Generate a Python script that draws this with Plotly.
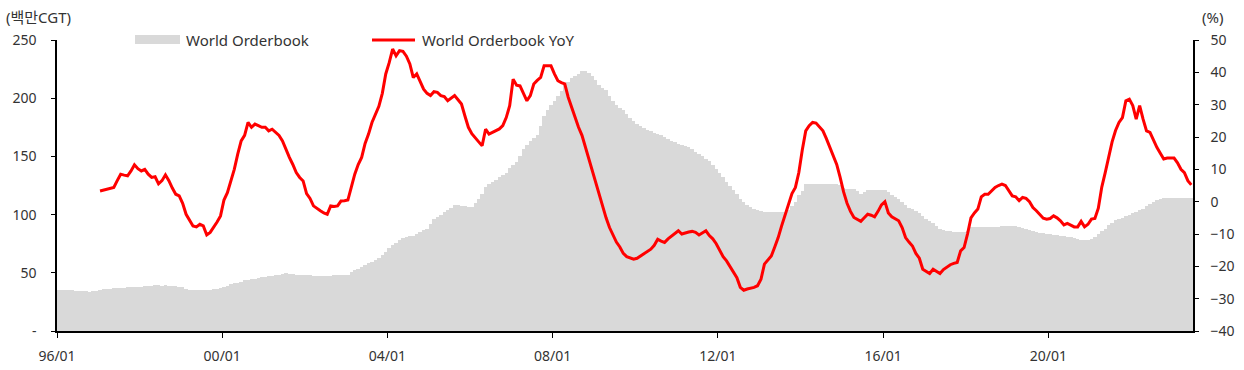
import plotly.graph_objects as go

# ---- data (monthly, 1996/01 .. 2023/06) ----
start_year = 1996
orderbook_mcgt = [
    # 1996
    35, 35, 35, 35, 35, 34.5, 34.5, 34, 34, 33.7, 34, 34.5,
    # 1997
    35.5, 36, 36.5, 36.5, 36.8, 37, 37, 37.2, 37.5, 37.5, 37.8, 38,
    # 1998
    38.2, 38.5, 38.5, 39, 39.2, 39.4, 39, 39.2, 38.8, 38.5, 38.5, 38,
    # 1999
    37.5, 36.5, 35.5, 35, 35, 34.8, 35, 35, 35.5, 36, 36.5, 37,
    # 2000
    38, 39, 40, 40.9, 41.5, 42.5, 43.5, 44, 44.3, 45, 45.5, 46,
    # 2001
    46.5, 47, 47.5, 48, 48.5, 49, 49.5, 49.3, 48.8, 48.5, 48.2, 48,
    # 2002
    48, 47.8, 47.5, 47.5, 47.3, 47.5, 47.2, 47.5, 48, 48, 48.2, 48.3,
    # 2003
    48.5, 51, 52, 53.5, 55, 56.6, 58, 59.5, 61, 62.6, 65, 68,
    # 2004
    71, 73.5, 76, 78, 79.5, 80.5, 81.5, 82, 83.5, 85, 86.5, 88,
    # 2005
    92, 96, 98, 100, 102, 104, 106, 108, 108, 107.5, 107, 106.6,
    # 2006
    106.6, 110, 113.8, 118, 123.8, 126, 128, 130, 132, 133.8, 136, 140,
    # 2007
    143, 145, 150, 156.7, 160, 163, 166, 168, 176, 185, 190, 194,
    # 2008
    198, 202, 206, 211, 214, 217, 219.5, 221, 223, 223.8, 222, 219.5,
    # 2009
    216, 211, 209, 206.7, 202, 198, 193.8, 192, 190, 186.7, 183, 180,
    # 2010
    178, 176, 174.5, 173, 172, 170.5, 169.5, 168, 166.5, 165, 163.5, 162,
    # 2011
    161, 160, 159, 158, 156, 153.8, 152, 150, 148, 146, 143, 139.5,
    # 2012
    136, 132, 128, 124.5, 121, 117.5, 113.8, 111, 108.5, 106.5, 105, 104,
    # 2013
    103, 102.5, 102, 102, 102, 102, 102, 102.5, 104, 107, 111, 117,
    # 2014
    120, 126, 126, 126, 126, 126, 126, 126, 126, 126, 126, 125.8,
    # 2015
    123, 122.4, 122.4, 122, 120, 118, 119.5, 121, 121, 121.5, 121, 121,
    # 2016
    121, 119, 117, 115.5, 113.8, 111, 108.5, 106, 105, 103, 101, 99,
    # 2017
    96.6, 94.5, 92.5, 90, 88, 87, 86, 85.5, 85, 85, 85, 85,
    # 2018
    86, 89.5, 89.5, 89, 89, 89.5, 89, 89.5, 89.5, 89.5, 90, 90,
    # 2019
    90.3, 90.3, 90.3, 89.5, 88.5, 88, 87, 86, 85, 84.5, 83.8, 83.5,
    # 2020
    83, 82.5, 82.3, 82, 81.5, 81, 80.5, 79.5, 79, 78.5, 78, 78,
    # 2021
    79, 80.9, 83, 85.5, 88, 91, 93, 95, 96.5, 97.5, 98.5, 99.5,
    # 2022
    101, 102.5, 103.8, 105, 107, 109, 111, 112.5, 113.5, 114.3, 114.5, 114.3,
    # 2023
    114.5, 114.3, 114.5, 114, 114.3, 114.3,
]

yoy_start_year = 1997
orderbook_yoy_pct = [
    # 1997
    3.3, 3.6, 3.9, 4.1, 4.4, 6.5, 8.5, 8.2, 8.0, 9.5, 11.4, 10.2,
    # 1998
    9.5, 10, 8.5, 7.5, 7.7, 5.5, 6.5, 8.3, 6.5, 4.2, 2.3, 1.8,
    # 1999
    -0.5, -3.9, -5.8, -7.5, -7.8, -7.0, -7.5, -10.3, -9.5, -8, -6.3, -4.4,
    # 2000
    0.5, 2.8, 6.4, 10.0, 14.7, 18.8, 20.5, 24.5, 23, 24, 23.5, 23,
    # 2001
    23, 21.9, 22.4, 21.5, 20.5, 18.8, 16, 13.7, 11.5, 9, 7.5, 6.4,
    # 2002
    2.5, 1.0, -1.3, -2.2, -2.8, -3.5, -3.9, -1.3, -1.5, -1.3, 0.2, 0.3,
    # 2003
    0.5, 4.5, 8.5, 11.5, 13.7, 18, 20.9, 24.5, 27, 29.5, 33.5, 39.5,
    # 2004
    43, 47.2, 45.1, 46.7, 46.5, 45, 42.6, 38.4, 39.5, 37, 34.8, 33.5,
    # 2005
    32.8, 34, 33.8, 32.8, 32.5, 31.2, 32, 32.8, 31.5, 30.2, 26.5, 23,
    # 2006
    21, 19.9, 18.5, 17.3, 22.4, 20.9, 21.5, 21.9, 22.5, 23.5, 26, 29.7,
    # 2007
    37.9, 36, 35.8, 33.5, 31.2, 32.8, 36.4, 37.5, 38.4, 42, 42, 42,
    # 2008
    39.5, 37.4, 36.8, 36.4, 32.3, 29, 26, 23, 20.5, 16.8, 13, 10,
    # 2009
    6, 2.5, -1.5, -5, -8, -10.5, -12.5, -14, -16, -17, -17.5, -17.8,
    # 2010
    -17.5, -16.8, -16, -15.5, -14.7, -13.5, -11.6, -12.2, -12.6, -11.5, -10.6, -9.8,
    # 2011
    -9, -10, -9.6, -9.4, -9.2, -9.5, -10.3, -9.6, -9, -10.5, -11.5, -13,
    # 2012
    -15, -17, -18.3, -20, -21.4, -23.5, -26.5, -27.4, -27, -26.8, -26.5, -26,
    # 2013
    -24, -19.3, -18, -16.8, -14, -11.1, -7.5, -4, -0.5, 2.5, 4.4, 9,
    # 2014
    16, 21.9, 23.5, 24.5, 24.3, 23.2, 21.9, 19.5, 16.8, 14.5, 11.5, 7.5,
    # 2015
    3, -0.5, -3, -4.9, -5.5, -6.1, -5, -3.9, -4.2, -4.7, -3.0, -1.0,
    # 2016
    0.0, -3.5, -4.7, -5.2, -5.9, -8, -11.1, -12.5, -13.7, -16, -17.5, -20.9,
    # 2017
    -21.5, -22.2, -20.9, -21.5, -22.2, -21, -20.2, -19.5, -19.1, -18.8, -15.2, -14.2,
    # 2018
    -10, -5, -3.5, -2.3, 1.5, 2.3, 2.3, 3.5, 4.4, 5.0, 5.4, 5.0,
    # 2019
    3.5, 1.8, 1.5, 0.3, 1.3, 1.0, 0.0, -1.8, -2.8, -3.9, -5.1, -5.4,
    # 2020
    -5.2, -4.4, -5, -5.9, -7.2, -6.7, -7.2, -7.8, -7.8, -6.1, -7.8, -7,
    # 2021
    -5.4, -5.2, -2, 4.5, 9, 13.5, 18.5, 22, 24.5, 26, 31.2, 31.7,
    # 2022
    29.7, 25.5, 29.7, 25.5, 21.9, 21.4, 19, 16.8, 15, 13.2, 13.5, 13.4,
    # 2023
    13.5, 12.0, 10.0, 9.0, 6.5, 5.2,
]

x_tick_labels = ["96/01", "00/01", "04/01", "08/01", "12/01", "16/01", "20/01"]
left_tick_vals = [0, 50, 100, 150, 200, 250]
left_tick_text = ["-", "50", "100", "150", "200", "250"]
right_tick_vals = [-40, -30, -20, -10, 0, 10, 20, 30, 40, 50]

series_names = ["World Orderbook", "World Orderbook YoY"]
left_unit = "(백만CGT)"
right_unit = "(%)"

# ---- derived positions (month index) ----
bar_x = list(range(len(orderbook_mcgt)))
off = (yoy_start_year - start_year) * 12
line_x = [off + i for i in range(len(orderbook_yoy_pct))]


def label_to_pos(lbl):
    yy = int(lbl[:2])
    year = 1900 + yy if yy >= 50 else 2000 + yy
    return (year - start_year) * 12 + (int(lbl[3:]) - 1) - 0.5


x_tick_vals = [label_to_pos(l) for l in x_tick_labels]

GRAY = "#d9d9d9"
RED = "#ff0000"
TXT = "#333333"
FONT = "Noto Sans, Noto Sans CJK KR, sans-serif"

fig = go.Figure()
fig.add_trace(go.Bar(x=bar_x, y=orderbook_mcgt, name=series_names[0],
                     marker=dict(color=GRAY, line=dict(width=0)),
                     showlegend=False, yaxis="y"))
fig.add_trace(go.Scatter(x=line_x, y=orderbook_yoy_pct, name=series_names[1],
                         mode="lines", line=dict(color=RED, width=3),
                         showlegend=False, yaxis="y2"))

W, H = 1244, 370
ml, mr, mt, mb = 57, 51, 40, 39
pw, ph = W - ml - mr, H - mt - mb


def px(xp):
    return (xp - ml) / pw


def py(yp):
    return (H - mb - yp) / ph


fig.update_layout(
    width=W, height=H,
    margin=dict(l=ml, r=mr, t=mt, b=mb, pad=0, autoexpand=False),
    paper_bgcolor="white", plot_bgcolor="white",
    bargap=0,
    showlegend=False,
    font=dict(family=FONT, size=14, color=TXT),
    xaxis=dict(range=[-0.5, len(orderbook_mcgt) - 0.5], tickvals=x_tick_vals,
               ticktext=x_tick_labels, ticks="outside", ticklen=5, tickcolor="black",
               showline=True, linecolor="black", linewidth=1.5, showgrid=False,
               zeroline=False, ticklabelstandoff=6, automargin=False,
               tickfont=dict(size=14, color=TXT)),
    yaxis=dict(range=[0, 250], tickvals=left_tick_vals, ticktext=left_tick_text,
               ticks="outside", ticklen=4, tickcolor="black", showline=True,
               linecolor="black", linewidth=1.5, showgrid=False, zeroline=False,
               ticklabelstandoff=12, automargin=False,
               tickfont=dict(size=14, color=TXT)),
    yaxis2=dict(range=[-40, 50], tickvals=right_tick_vals, overlaying="y",
                side="right", ticks="outside", ticklen=4, tickcolor="black",
                showline=True, linecolor="black", linewidth=1.5, showgrid=False,
                zeroline=False, ticklabelstandoff=9, automargin=False,
                tickfont=dict(size=14, color=TXT)),
    shapes=[
        dict(type="rect", xref="paper", yref="paper", x0=px(135), x1=px(180),
             y0=py(44), y1=py(35), fillcolor=GRAY, line=dict(width=0)),
        dict(type="line", xref="paper", yref="paper", x0=px(372), x1=px(415),
             y0=py(40), y1=py(40), line=dict(color=RED, width=3)),
    ],
    annotations=[
        dict(text=series_names[0], xref="paper", yref="paper", x=px(184), y=py(40),
             xanchor="left", yanchor="middle", showarrow=False,
             font=dict(size=15, color=TXT)),
        dict(text=series_names[1], xref="paper", yref="paper", x=px(420), y=py(40),
             xanchor="left", yanchor="middle", showarrow=False,
             font=dict(size=15, color=TXT)),
        dict(text=left_unit, xref="paper", yref="paper", x=px(4), y=py(17),
             xanchor="left", yanchor="middle", showarrow=False,
             font=dict(size=15, color=TXT)),
        dict(text=right_unit, xref="paper", yref="paper", x=px(1200), y=py(17),
             xanchor="left", yanchor="middle", showarrow=False,
             font=dict(size=15, color=TXT)),
    ],
)

fig.write_html(
    "out.html",
    config={"displayModeBar": False},
    post_script="document.body.style.margin='0';document.body.style.overflow='hidden';",
)
